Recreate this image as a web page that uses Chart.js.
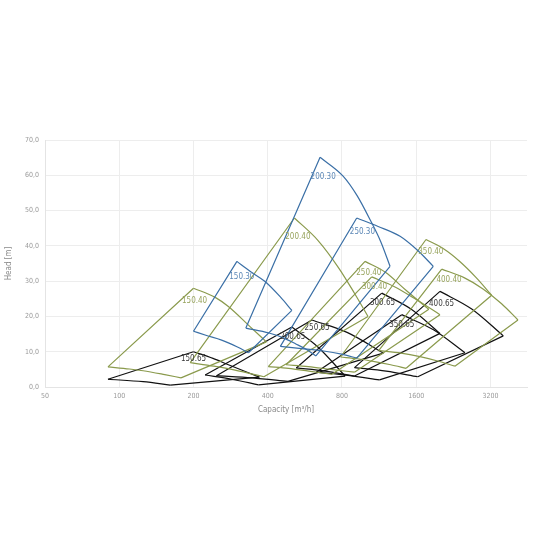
<!DOCTYPE html>
<html>
<head>
<meta charset="utf-8">
<script src="https://cdn.jsdelivr.net/npm/chart.js@4.4.0/dist/chart.umd.min.js"></script>
<style>html,body{margin:0;padding:0;background:#fff}</style>
</head>
<body>
<canvas id="chart" width="536" height="536"></canvas>
<script>
// axis ticks
const xTicks = [50, 100, 200, 400, 800, 1600, 3200];
const yTicks = [0, 10, 20, 30, 40, 50, 60, 70];

// pump ranges: top = max impeller curve, bot = min impeller curve, [Q m3/h, H m]
const top150_30 = [[300,35.6],[339,32.8],[390,29.9],[449,25.6],[501,21.7]];
const bot150_30 = [[200,15.8],[226,14.6],[260,13.3],[300,11.4],[334,9.7]];
const top200_30 = [[652,65.1],[810,59.7],[920,54.3],[1040,47.4],[1150,41.1],[1253,34.2]];
const bot200_30 = [[326,16.7],[405,15.3],[460,14.0],[520,12.2],[575,10.6],[627,8.8]];
const top250_30 = [[918,47.9],[1121,45.5],[1376,42.7],[1627,38.6],[1876,34.2]];
const bot250_30 = [[450,11.5],[549,10.9],[674,10.2],[797,9.3],[919,8.2]];

const top150_40 = [[200,28.0],[245,25.4],[277,22.8],[339,17.1],[395,12.8]];
const bot150_40 = [[90,5.7],[110,5.1],[125,4.6],[153,3.5],[178,2.6]];
const top200_40 = [[513,47.9],[640,41.5],[780,33.5],[900,26.5],[1020,20.0]];
const bot200_40 = [[194,6.9],[242,5.9],[295,4.8],[340,3.8],[386,2.9]];
const top250_40 = [[992,35.6],[1200,32.5],[1450,27.5],[1800,22.0]];
const bot250_40 = [[402,5.8],[486,5.3],[587,4.5],[729,3.6]];
const top300_40 = [[1056,31.2],[1300,28.5],[1600,24.8],[1997,20.5]];
const bot300_40 = [[475,6.3],[585,5.8],[720,5.0],[899,4.2]];
const top350_40 = [[1753,41.8],[2050,39.3],[2409,35.5],[2800,31.0],[3236,26.0]];
const bot350_40 = [[789,8.5],[923,8.0],[1084,7.2],[1260,6.3],[1456,5.3]];
const top400_40 = [[2030,33.4],[2500,31.0],[2985,27.8],[3550,23.6],[4136,19.0]];
const bot400_40 = [[1127,10.3],[1388,9.6],[1657,8.6],[1970,7.3],[2295,5.9]];

const top150_65 = [[200,10.0],[240,8.1],[277,6.3],[370,2.8]];
const bot150_65 = [[90,2.2],[125,1.5],[161,0.55]];
const top200_65 = [[501,17.0],[642,11.2],[824,3.1]];
const bot200_65 = [[223,3.4],[286,2.2],[367,0.6]];
const top250_65 = [[604,19.0],[843,15.4],[1177,9.6]];
const bot250_65 = [[248,3.2],[346,2.6],[483,1.6]];
const top300_65 = [[1160,26.6],[1523,22.1],[1997,15.2]];
const bot300_65 = [[522,5.4],[684,4.5],[899,3.1]];
const top350_65 = [[1398,20.5],[1879,16.2],[2522,9.7]];
const bot350_65 = [[629,4.2],[846,3.3],[1135,2.0]];
const top400_65 = [[1997,27.1],[2686,22.1],[3606,14.5]];
const bot400_65 = [[899,5.5],[1208,4.5],[1623,2.9]];

// labels and where they sit (data coords)
const pumpNames = ['150.30','200.30','250.30','150.40','200.40','250.40','300.40','350.40','400.40',
                   '150.65','200.65','250.65','300.65','350.65','400.65'];
const labelQ = [314, 671, 968, 202, 530, 1028, 1084, 1834, 2172, 200, 505, 634, 1168, 1398, 2027];
const labelH = [31.2, 59.6, 43.9, 24.5, 42.4, 32.3, 28.3, 38.4, 30.4, 7.95, 14.3, 16.7, 23.8, 17.6, 23.5];

const shapes = [
  [top150_30, bot150_30], [top200_30, bot200_30], [top250_30, bot250_30],
  [top150_40, bot150_40], [top200_40, bot200_40], [top250_40, bot250_40],
  [top300_40, bot300_40], [top350_40, bot350_40], [top400_40, bot400_40],
  [top150_65, bot150_65], [top200_65, bot200_65], [top250_65, bot250_65],
  [top300_65, bot300_65], [top350_65, bot350_65], [top400_65, bot400_65]
];

const lineColors = { '30': '#3a6fa6', '40': '#8a9a4c', '65': '#111111' };
const textColors = { '30': '#5b87b6', '40': '#98a45e', '65': '#3a3a3a' };
const FONT = "'Liberation Sans Narrow', 'DejaVu Sans Condensed', sans-serif";

const toPts = arr => arr.map(p => ({ x: p[0], y: p[1] }));

const datasets = [];
shapes.forEach((s, i) => {
  const color = lineColors[pumpNames[i].split('.')[1]];
  const top = s[0], bot = s[1];
  const base = { showLine: true, borderColor: color, borderWidth: 1.2, pointRadius: 0, fill: false };
  // impeller curves, smooth
  datasets.push(Object.assign({}, base, { data: toPts(top), cubicInterpolationMode: 'monotone' }));
  datasets.push(Object.assign({}, base, { data: toPts(bot), cubicInterpolationMode: 'monotone' }));
  // min / max flow limits, straight, with a gap between them
  const left = [bot[0], top[0]], right = [top[top.length - 1], bot[bot.length - 1]];
  datasets.push(Object.assign({}, base, {
    data: toPts(left).concat([{ x: right[0][0], y: null }], toPts(right)),
    tension: 0, spanGaps: false
  }));
});

const labelPlugin = {
  id: 'pumpLabels',
  afterDatasetsDraw(chart) {
    const ctx = chart.ctx;
    const xs = chart.scales.x, ys = chart.scales.y;
    ctx.save();
    ctx.font = '8px ' + FONT;
    ctx.textAlign = 'center';
    ctx.textBaseline = 'middle';
    pumpNames.forEach((n, i) => {
      ctx.fillStyle = textColors[n.split('.')[1]];
      ctx.fillText(n, xs.getPixelForValue(labelQ[i]), ys.getPixelForValue(labelH[i]));
    });
    ctx.restore();
  }
};

new Chart(document.getElementById('chart').getContext('2d'), {
  type: 'scatter',
  data: { datasets },
  options: {
    responsive: false,
    animation: false,
    layout: { padding: { top: 140, right: 9, bottom: 117, left: 0 } },
    plugins: { legend: { display: false }, tooltip: { enabled: false } },
    scales: {
      x: {
        type: 'logarithmic',
        min: 50,
        max: 4500,
        afterBuildTicks: (scale) => { scale.ticks = xTicks.map(v => ({ value: v })); },
        afterFit: (scale) => { scale.height = 32; },
        grid: { color: '#ededed', drawTicks: false },
        border: { color: '#e4e4e4' },
        ticks: { color: '#9a9a9a', font: { size: 7, family: FONT }, padding: 5, maxRotation: 0,
                 callback: (v) => String(v) },
        title: { display: true, text: 'Capacity [m³/h]', color: '#8a8a8a',
                 font: { size: 8, family: FONT }, padding: { top: 2 } }
      },
      y: {
        min: 0,
        max: 70,
        afterBuildTicks: (scale) => { scale.ticks = yTicks.map(v => ({ value: v })); },
        afterFit: (scale) => { scale.width = 45; },
        grid: { color: '#ededed', drawTicks: false },
        border: { color: '#e4e4e4' },
        ticks: { color: '#9a9a9a', font: { size: 7, family: FONT }, padding: 6,
                 callback: (v) => v.toFixed(1).replace('.', ',') },
        title: { display: true, text: 'Head [m]', color: '#8a8a8a',
                 font: { size: 8, family: FONT }, padding: { bottom: 4 } }
      }
    }
  },
  plugins: [labelPlugin]
});
</script>
</body>
</html>
